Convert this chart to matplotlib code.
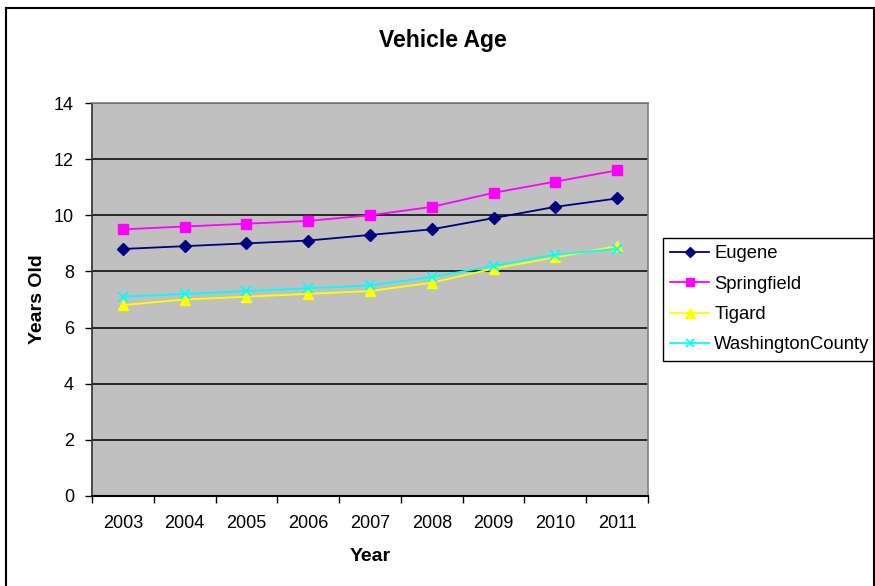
import matplotlib
matplotlib.use("Agg")
import matplotlib.pyplot as plt
from matplotlib.lines import Line2D
import numpy as np

plt.rcParams['font.family'] = ['Liberation Sans', 'DejaVu Sans']

years = ['2003', '2004', '2005', '2006', '2007', '2008', '2009', '2010', '2011']
eugene = [8.8, 8.9, 9.0, 9.1, 9.3, 9.5, 9.9, 10.3, 10.6]
springfield = [9.5, 9.6, 9.7, 9.8, 10.0, 10.3, 10.8, 11.2, 11.6]
tigard = [6.8, 7.0, 7.1, 7.2, 7.3, 7.6, 8.1, 8.5, 8.9]
washington = [7.1, 7.2, 7.3, 7.4, 7.5, 7.8, 8.2, 8.6, 8.8]

series = [
    ('Eugene', eugene, '#000080', 'D', 6, {}),
    ('Springfield', springfield, '#FF00FF', 's', 6.5, {}),
    ('Tigard', tigard, '#FFFF00', '^', 7.5, {}),
    ('WashingtonCounty', washington, '#00FFFF', 'x', 7, {'markeredgewidth': 1.3}),
]

W, H = 875, 586
fig = plt.figure(figsize=(W / 100, H / 100), dpi=100)
fig.patch.set_facecolor('white')

ax = fig.add_axes([92 / W, 1 - 496 / H, (648 - 92) / W, (496 - 103) / H])
ax.set_facecolor('#C0C0C0')

x = np.arange(1, len(years) + 1)
for name, vals, col, mk, ms, extra in series:
    ax.plot(x, vals, color=col, marker=mk, markersize=ms, linewidth=1.3,
            markerfacecolor=col, markeredgecolor=col, label=name, zorder=3, **extra)

ax.set_xlim(0.5, len(years) + 0.5)
ax.set_ylim(0, 14)
ax.set_yticks(np.arange(0, 15, 2))
ax.yaxis.grid(True, color='black', linewidth=1.1)
ax.set_axisbelow(True)

ax.set_xticks(x)
ax.set_xticklabels(years)
ax.set_xticks(np.arange(0.5, len(years) + 1, 1), minor=True)
ax.tick_params(axis='x', which='major', length=0, pad=14, labelsize=13)
ax.tick_params(axis='x', which='minor', length=5, width=1, direction='out', color='black')
ax.tick_params(axis='y', which='major', length=5, width=1, direction='out', pad=8, labelsize=13)

for side in ['top', 'right']:
    ax.spines[side].set_color('#808080')
    ax.spines[side].set_linewidth(1.2)
ax.spines['left'].set_color('#303030')
ax.spines['bottom'].set_color('black')
ax.spines['left'].set_linewidth(1.2)
ax.spines['bottom'].set_linewidth(1.5)

ax.set_xlabel('Year', fontsize=14, fontweight='bold', labelpad=11.5)
ax.set_ylabel('Years Old', fontsize=14, fontweight='bold', labelpad=5.5)

fig.text(443 / W, 1 - 40 / H, 'Vehicle Age', ha='center', va='center',
         fontsize=16.5, fontweight='bold')

leg = ax.legend(loc='upper left', bbox_to_anchor=(663 / W, 1 - 238 / H),
                bbox_transform=fig.transFigure, fontsize=13.3, frameon=True,
                fancybox=False, edgecolor='black', borderaxespad=0,
                handlelength=2.1, handletextpad=0.28, labelspacing=0.72,
                borderpad=0.4, framealpha=1)
leg.get_frame().set_linewidth(1.0)
for h in leg.legend_handles:
    h.set_markersize(h.get_markersize() * 0.9)

# outer chart frame
fig.add_artist(Line2D([6 / W, 6 / W], [0, 1 - 8 / H], transform=fig.transFigure,
                      color='black', linewidth=1.5))
fig.add_artist(Line2D([6 / W, 874 / W], [1 - 8 / H, 1 - 8 / H], transform=fig.transFigure,
                      color='black', linewidth=1.5))
fig.add_artist(Line2D([874 / W, 874 / W], [0, 1 - 8 / H], transform=fig.transFigure,
                      color='black', linewidth=1.5))

fig.savefig('out.png', dpi=100, facecolor='white')
